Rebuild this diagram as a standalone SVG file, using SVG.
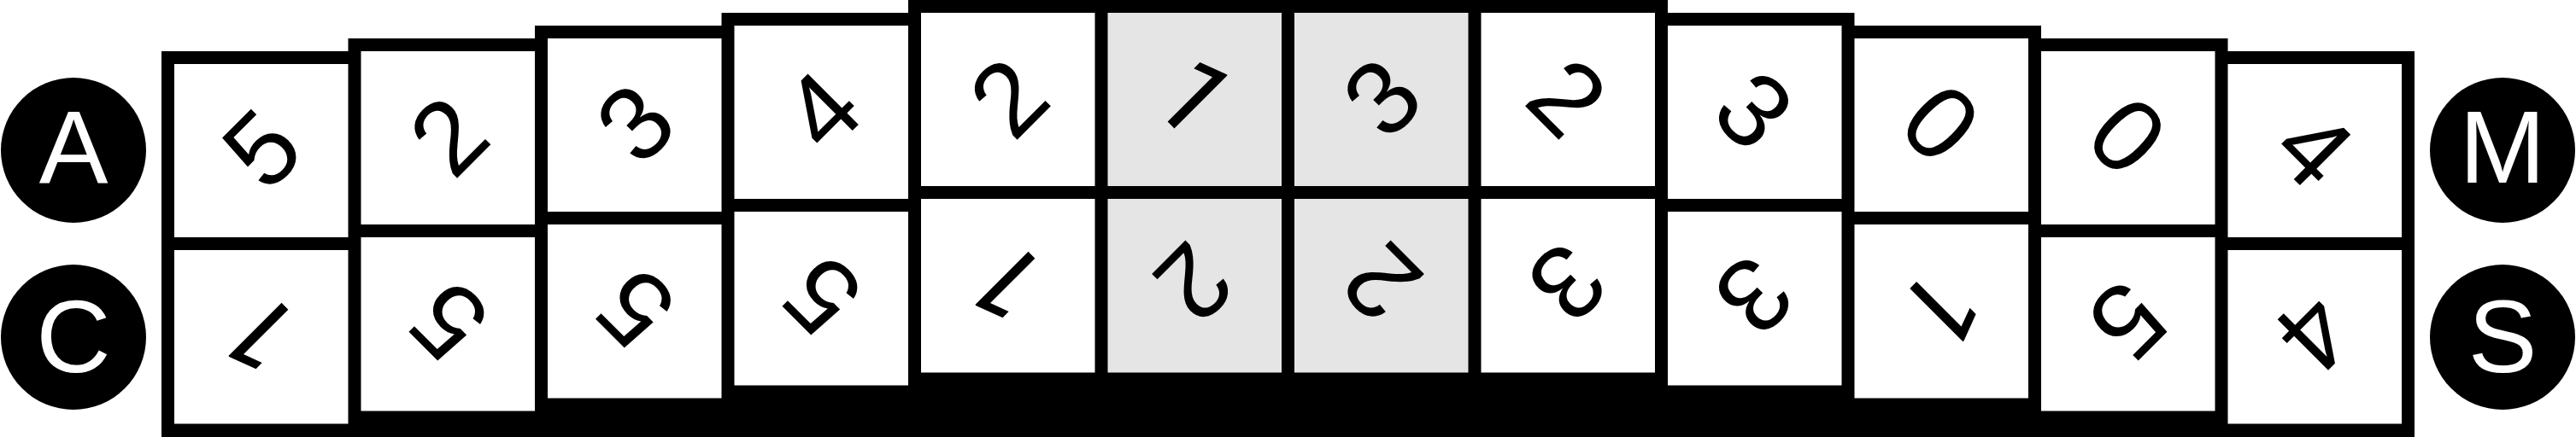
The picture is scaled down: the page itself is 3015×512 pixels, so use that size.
<svg xmlns="http://www.w3.org/2000/svg" width="3015" height="512" viewBox="0 0 3015 512">
<style>
.w{fill:#ffffff}
.g{fill:#e5e5e5}
.d{font-family:"Liberation Sans",Arial,sans-serif;font-size:122px;text-anchor:middle;fill:#000}
.d.one{font-family:Roboto,"Liberation Sans",Arial,sans-serif;font-size:123px}
.l{font-family:"Liberation Sans",Arial,sans-serif;font-size:121px;text-anchor:middle;fill:#fff}
</style>
<rect width="3015" height="512" fill="#fff"/>
<g id="badges">
<g id="badge-A"><circle cx="86" cy="176" r="85"/><text class="l" x="86" y="214">A</text></g>
<g id="badge-C"><circle cx="86" cy="395" r="85"/><text class="l" x="86" y="435.5">C</text></g>
<g id="badge-M"><circle cx="2929" cy="176" r="85"/><text class="l" x="2929" y="214">M</text></g>
<g id="badge-S"><circle cx="2929" cy="395" r="85"/><text class="l" x="2929" y="435.5">S</text></g>
</g>
<g id="connectors"></g>
<path id="frame" d="M189,512 V60 H407.5 V45 H626 V30 H844.5 V15 H1063 V0 H1952 V15 H2170.5 V30 H2389 V45 H2607.5 V60 H2826 V512 Z" fill="#000"/>
<g id="tiles">
<g id="c1t"><rect class="w" x="204" y="75" width="203.5" height="203"/><text class="d" transform="translate(305.75,173.5) rotate(-45)" y="43">5</text></g>
<g id="c1b"><rect class="w" x="204" y="293" width="203.5" height="203.5"/><text class="d one" transform="translate(305.75,391.75) rotate(-135)" y="43">1</text></g>
<g id="c2t"><rect class="w" x="422.5" y="60" width="203.5" height="203"/><text class="d" transform="translate(524.25,158.5) rotate(-45)" y="43">2</text></g>
<g id="c2b"><rect class="w" x="422.5" y="278" width="203.5" height="203.5"/><text class="d" transform="translate(524.25,376.75) rotate(-135)" y="43">5</text></g>
<g id="c3t"><rect class="w" x="641" y="45" width="203.5" height="203"/><text class="d" transform="translate(742.75,143.5) rotate(-45)" y="43">3</text></g>
<g id="c3b"><rect class="w" x="641" y="263" width="203.5" height="203.5"/><text class="d" transform="translate(742.75,361.75) rotate(-135)" y="43">5</text></g>
<g id="c4t"><rect class="w" x="859.5" y="30" width="203.5" height="203"/><text class="d" transform="translate(961.25,128.5) rotate(-45)" y="43">4</text></g>
<g id="c4b"><rect class="w" x="859.5" y="248" width="203.5" height="203.5"/><text class="d" transform="translate(961.25,346.75) rotate(-135)" y="43">5</text></g>
<g id="c5t"><rect class="w" x="1078" y="15" width="203.5" height="203"/><text class="d" transform="translate(1179.75,113.5) rotate(-45)" y="43">2</text></g>
<g id="c5b"><rect class="w" x="1078" y="233" width="203.5" height="203.5"/><text class="d one" transform="translate(1179.75,331.75) rotate(-135)" y="43">1</text></g>
<g id="c6t"><rect class="g" x="1296.5" y="15" width="203.5" height="203"/><text class="d one" transform="translate(1398.25,113.5) rotate(45)" y="43">1</text></g>
<g id="c6b"><rect class="g" x="1296.5" y="233" width="203.5" height="203.5"/><text class="d" transform="translate(1398.25,331.75) rotate(135)" y="43">2</text></g>
<g id="c7t"><rect class="g" x="1515" y="15" width="203.5" height="203"/><text class="d" transform="translate(1616.75,113.5) rotate(-45)" y="43">3</text></g>
<g id="c7b"><rect class="g" x="1515" y="233" width="203.5" height="203.5"/><text class="d" transform="translate(1616.75,331.75) rotate(-135)" y="43">2</text></g>
<g id="c8t"><rect class="w" x="1733.5" y="15" width="203.5" height="203"/><text class="d" transform="translate(1835.25,113.5) rotate(45)" y="43">2</text></g>
<g id="c8b"><rect class="w" x="1733.5" y="233" width="203.5" height="203.5"/><text class="d" transform="translate(1835.25,331.75) rotate(135)" y="43">3</text></g>
<g id="c9t"><rect class="w" x="1952" y="30" width="203.5" height="203"/><text class="d" transform="translate(2053.75,128.5) rotate(45)" y="43">3</text></g>
<g id="c9b"><rect class="w" x="1952" y="248" width="203.5" height="203.5"/><text class="d" transform="translate(2053.75,346.75) rotate(135)" y="43">3</text></g>
<g id="c10t"><rect class="w" x="2170.5" y="45" width="203.5" height="203"/><text class="d" transform="translate(2272.25,143.5) rotate(45)" y="43">0</text></g>
<g id="c10b"><rect class="w" x="2170.5" y="263" width="203.5" height="203.5"/><text class="d one" transform="translate(2272.25,361.75) rotate(135)" y="43">1</text></g>
<g id="c11t"><rect class="w" x="2389" y="60" width="203.5" height="203"/><text class="d" transform="translate(2490.75,158.5) rotate(45)" y="43">0</text></g>
<g id="c11b"><rect class="w" x="2389" y="278" width="203.5" height="203.5"/><text class="d" transform="translate(2490.75,376.75) rotate(135)" y="43">5</text></g>
<g id="c12t"><rect class="w" x="2607.5" y="75" width="203.5" height="203"/><text class="d" transform="translate(2709.25,173.5) rotate(45)" y="43">4</text></g>
<g id="c12b"><rect class="w" x="2607.5" y="293" width="203.5" height="203.5"/><text class="d" transform="translate(2709.25,391.75) rotate(135)" y="43">4</text></g>
</g>
</svg>
